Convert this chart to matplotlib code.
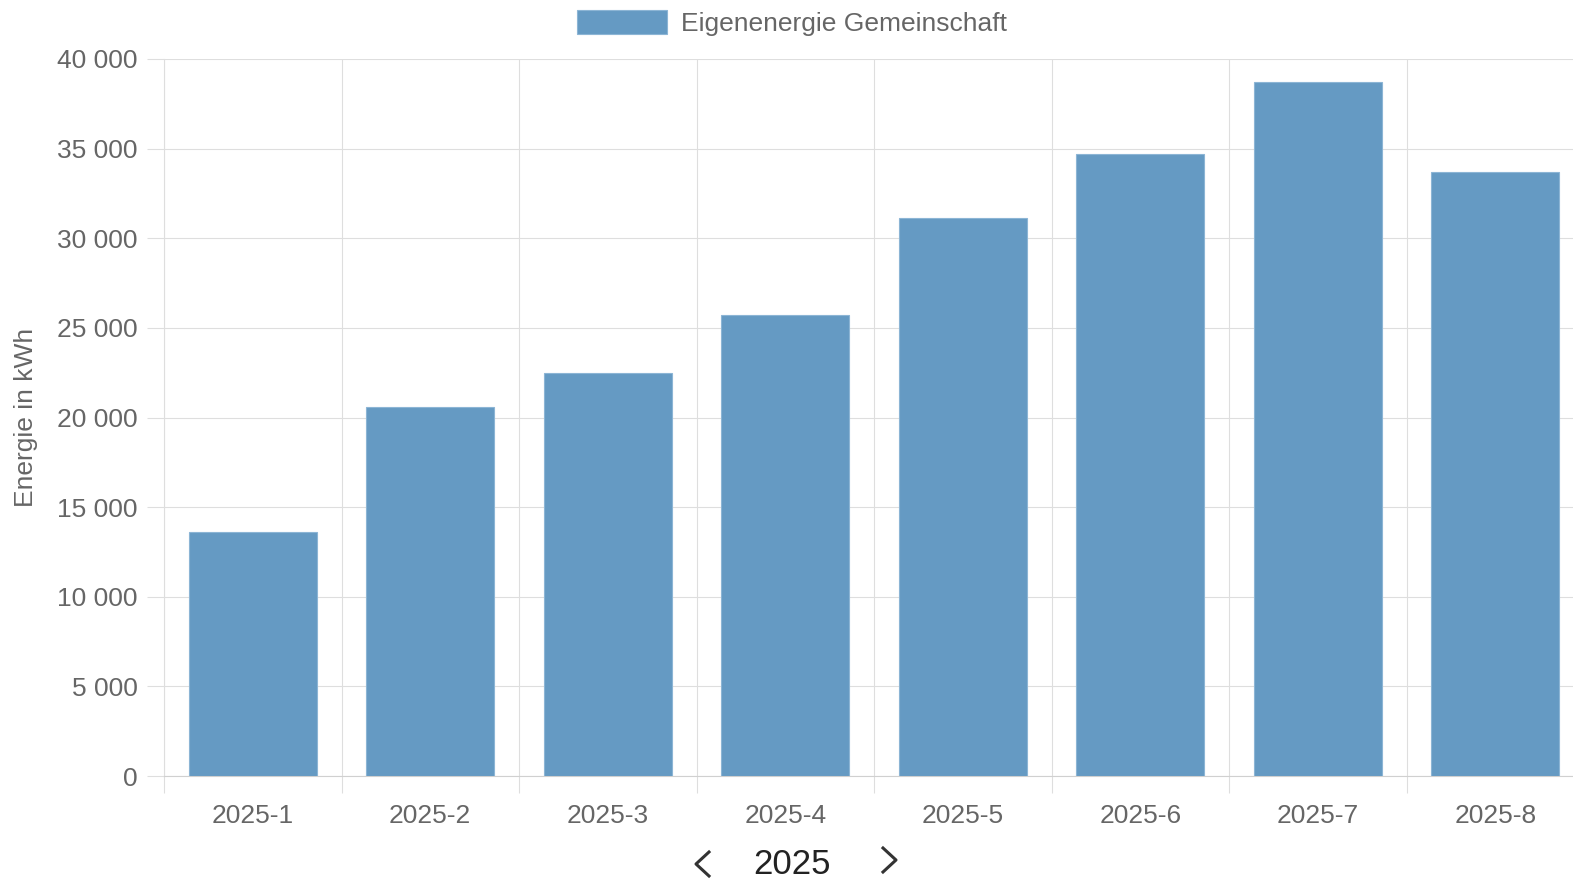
import matplotlib
matplotlib.use('Agg')
import matplotlib.pyplot as plt
from matplotlib.ticker import FuncFormatter, FixedLocator
from matplotlib.lines import Line2D

months = ['2025-1', '2025-2', '2025-3', '2025-4', '2025-5', '2025-6', '2025-7', '2025-8']
energy = [13600, 20560, 22470, 25710, 31150, 34680, 38710, 33670]
series_name = 'Eigenenergie Gemeinschaft'
year = '2025'

plt.rcParams['font.family'] = ['Liberation Sans', 'DejaVu Sans']

grid_col = '#dedede'
text_col = '#666666'

fig = plt.figure(figsize=(15.73, 8.82), dpi=100)
ax = fig.add_axes([164/1573, 1 - 776/882, 1420/1573, 717/882])

x = range(len(months))
ax.bar(x, energy, width=0.72, color='#659ac3', edgecolor='#8cb5d5', linewidth=0.8,
       label=series_name, zorder=3)

ax.set_xlim(-0.5, len(months) - 0.5)
ax.set_ylim(0, 40000)
ax.set_yticks(range(0, 40001, 5000))
ax.yaxis.set_major_formatter(FuncFormatter(lambda v, p: f'{int(v):,}'.replace(',', ' ')))

ax.set_xticks(list(x))
ax.set_xticklabels(months)
ax.xaxis.set_minor_locator(FixedLocator([i - 0.5 for i in range(len(months) + 1)]))

ax.tick_params(axis='x', which='major', length=0, pad=20, labelsize=19, labelcolor=text_col)
ax.tick_params(axis='x', which='minor', length=12, width=0.8, color=grid_col)
ax.tick_params(axis='y', length=12, width=0.8, color=grid_col, pad=7, labelsize=19,
               labelcolor=text_col)

ax.grid(axis='y', which='major', color=grid_col, linewidth=0.8, zorder=0)
ax.grid(axis='x', which='minor', color=grid_col, linewidth=0.8, zorder=0)

for side in ['top', 'right']:
    ax.spines[side].set_visible(False)
ax.spines['left'].set_color(grid_col)
ax.spines['left'].set_linewidth(0.8)
ax.spines['bottom'].set_color('#d0d0d0')
ax.spines['bottom'].set_linewidth(0.8)

ax.set_ylabel('Energie in kWh', fontsize=19, color=text_col)
ax.yaxis.set_label_coords(-126/1420, (776 - 417) / 717)

fig.legend(loc='center', bbox_to_anchor=(792/1573, 1 - 23/882), frameon=False,
           fontsize=19, labelcolor=text_col, handlelength=3.4, handleheight=1.0,
           handletextpad=0.55)

# year navigation below the chart
fig.text(792/1573, 1 - 874/882, year, fontsize=25, color='#222222', ha='center', va='baseline')
fig.add_artist(Line2D([709/1573, 696/1573, 709/1573], [1 - 852/882, 1 - 864/882, 1 - 876/882],
                      color='#333333', linewidth=2.2))
fig.add_artist(Line2D([883/1573, 896/1573, 883/1573], [1 - 848/882, 1 - 860/882, 1 - 872/882],
                      color='#333333', linewidth=2.2))

fig.savefig('out.png', dpi=100)
